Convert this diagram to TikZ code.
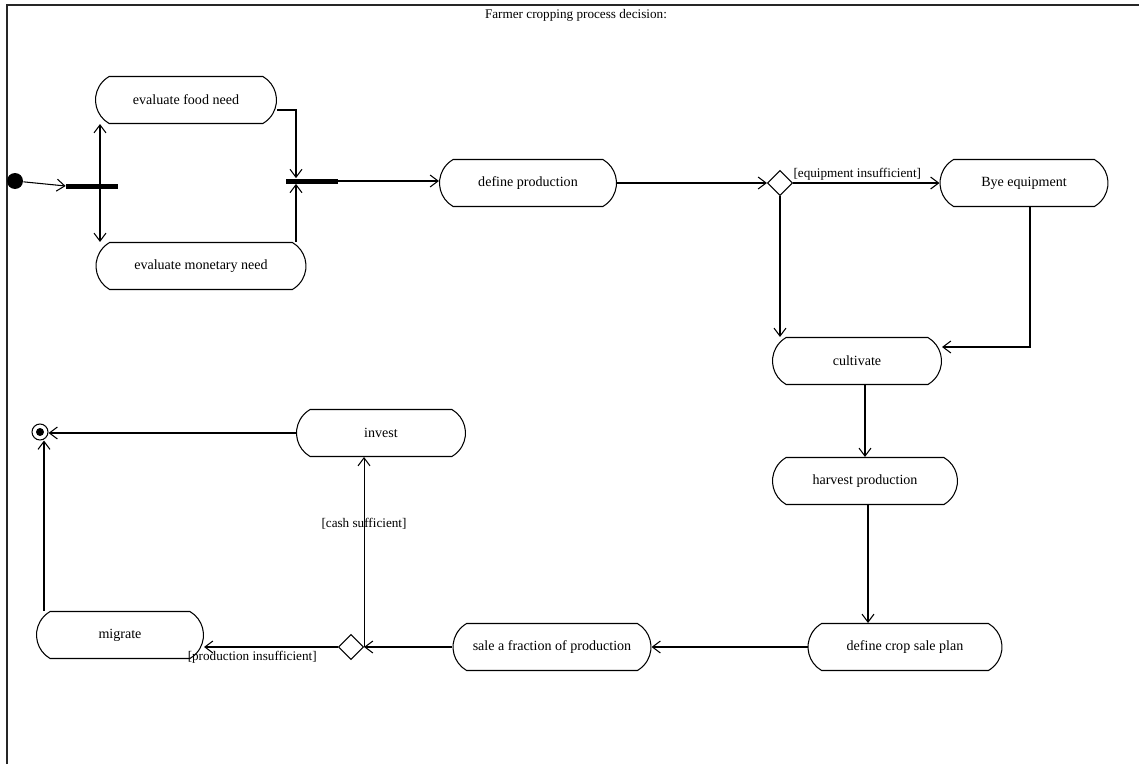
\documentclass[tikz,border=0pt]{standalone}
\usepackage{fontspec}
\setmainfont{Liberation Serif}
\usepackage{tikz}
\usetikzlibrary{positioning, arrows.meta, shapes.geometric, shapes.misc, calc}
\tikzset{
  action/.style={rounded rectangle, rounded rectangle arc length=120, draw, line width=0.6pt,
    inner sep=0pt, minimum height=0.94cm, font=\fontsize{8}{9}\selectfont},
  bar/.style={rectangle, fill=black, inner sep=0pt, minimum width=1.04cm, minimum height=0.1cm},
  decision/.style={diamond, draw, line width=0.6pt, inner sep=0pt, minimum size=0.5cm},
  initial/.style={circle, fill=black, inner sep=0pt, minimum size=0.32cm},
  final/.style={circle, draw, line width=0.6pt, inner sep=0pt, minimum size=0.32cm},
  flow/.style={line width=0.6pt, -{Straight Barb[length=1.6mm, width=2.4mm]}},
  guard/.style={font=\fontsize{7.5}{9}\selectfont, inner sep=1pt}
}

\begin{document}
\begin{tikzpicture}[x=0.02cm, y=-0.02cm]
  \useasboundingbox (0,0) rectangle (1139,764);
  % frame and title
  \draw[line width=0.8pt, gray!30!black] (7,764) -- (7,5) -- (1139,5);
  \node[font=\fontsize{7.5}{9}\selectfont] (title) at (576,15) {Farmer cropping process decision:};

  % start and fork
  \node[initial] (start) at (15,181) {};
  \node[bar] (fork) at (92,186) {};
  \node[action, minimum width=3.62cm] (foodneed) at (186,100) {evaluate food need};
  \node[action, minimum width=4.2cm] (moneyneed) at (201,266) {evaluate monetary need};
  \node[bar] (join) at (312,181) {};

  % production and equipment
  \node[action, minimum width=3.54cm] (defprod) at (528,183) {define production};
  \node[decision] (equipdec) at (780,183) {};
  \node[action, minimum width=3.36cm] (byeequip) at (1024,183) {Bye equipment};
  \node[action, minimum width=3.38cm] (cultivate) at (857,361) {cultivate};
  \node[action, minimum width=3.7cm] (harvest) at (865,481) {harvest production};
  \node[action, minimum width=3.88cm] (saleplan) at (905,647) {define crop sale plan};

  % sale and outcome
  \node[action, minimum width=3.96cm] (salefrac) at (552,647) {sale a fraction of production};
  \node[decision] (cashdec) at (351,647) {};
  \node[action, minimum width=3.38cm] (invest) at (381,433) {invest};
  \node[action, minimum width=3.34cm] (migrate) at (120,635) {migrate};
  \node[final] (stop) at (40,432) {};
  \fill (stop) circle (0.08cm);
  \coordinate (stopin) at (invest.west -| stop.east);

  % flows
  \draw[flow] (start) -- (fork.west);
  \draw[flow] ([xshift=0.16cm]fork.center) -- ([xshift=0.16cm]fork.center |- foodneed.south);
  \draw[flow] ([xshift=0.16cm]fork.center) -- ([xshift=0.16cm]fork.center |- moneyneed.north);
  \draw[flow] ([yshift=-0.2cm]foodneed.east) -| ([xshift=-0.32cm]join.north);
  \draw[flow] ([xshift=-0.32cm]join.south |- moneyneed.north) -- ([xshift=-0.32cm]join.south);
  \draw[flow] (join.east) -- (join.east -| defprod.west);
  \draw[flow] (defprod.east) -- (equipdec.west);
  \draw[flow] (equipdec.east) -- node[guard, pos=0, above right, xshift=-1pt] {[equipment insufficient]} (byeequip.west);
  \draw[flow] (equipdec.south) -- (equipdec.south |- cultivate.north);
  \draw[flow] ([xshift=0.12cm]byeequip.south) |- ([yshift=0.28cm]cultivate.east);
  \draw[flow] (harvest.north |- cultivate.south) -- (harvest.north);
  \draw[flow] ([xshift=0.06cm]harvest.south) -- ([xshift=0.06cm]harvest.south |- saleplan.north);
  \draw[flow] (saleplan.west) -- (salefrac.east);
  \draw[flow] (salefrac.west) -- (cashdec.east);
  \draw[flow] (cashdec.east) -- node[guard, pos=0.65] {[cash sufficient]} (cashdec.east |- invest.south);
  \draw[flow] (cashdec.west) -- node[guard, pos=0.64, below, yshift=-1pt] {[production insufficient]} (migrate.east |- cashdec.west);
  \draw[flow] ([xshift=-1.52cm]migrate.north) -- ([xshift=-1.52cm]migrate.north |- stop.south);
  \draw[flow] (invest.west) -- (stopin);
\end{tikzpicture}
\end{document}
